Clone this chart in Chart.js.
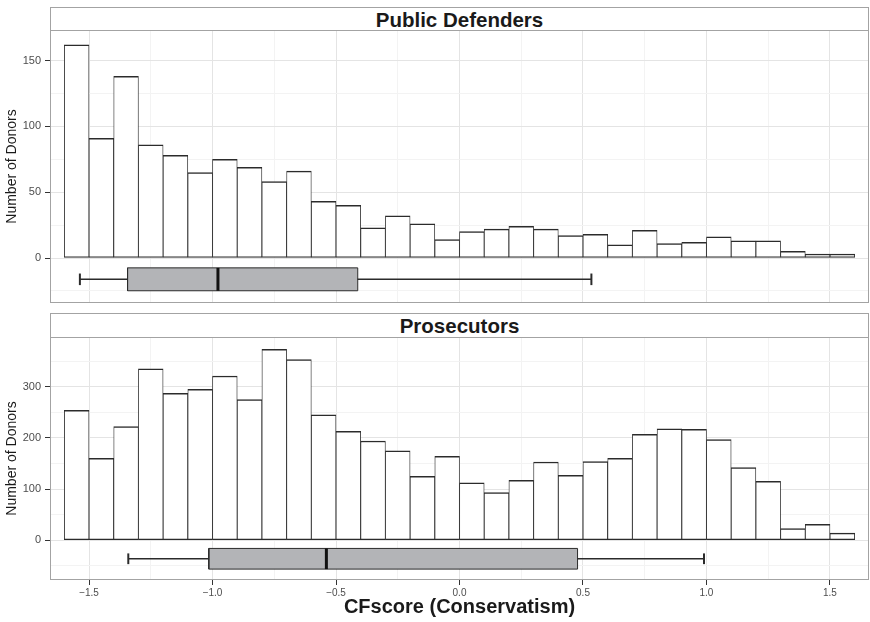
<!DOCTYPE html>
<html>
<head>
<meta charset="utf-8">
<script src="https://cdn.jsdelivr.net/npm/chart.js@4.4.1/dist/chart.umd.min.js"></script>
<style>
  html, body { margin: 0; padding: 0; background: #fff; }
  #wrap { position: relative; width: 870px; height: 622px; overflow: hidden; font-family: "Liberation Sans", Arial, sans-serif; }
  .panel { position: absolute; left: 0; width: 870px; }
  #box-pd { top: 0; height: 305px; }
  #box-pr { top: 305px; height: 317px; }
  .strip { position: absolute; left: 50px; width: 819px; box-sizing: border-box; border: 1px solid #a3a3a3; background: #fff;
           color: #1a1a1a; font-weight: bold; font-size: 20.5px; text-align: center; }
  #strip-pd { top: 7px; height: 24px; line-height: 23px; }
  #strip-pr { top: 313px; height: 25px; line-height: 24px; }
</style>
</head>
<body>
<div id="wrap">
  <div class="panel" id="box-pd"><canvas id="chart-pd"></canvas></div>
  <div class="panel" id="box-pr"><canvas id="chart-pr"></canvas></div>
  <div class="strip" id="strip-pd">Public Defenders</div>
  <div class="strip" id="strip-pr">Prosecutors</div>
</div>
<script>
// Histogramas de CFscore (bins de 0.1) con boxplot debajo, una faceta por grupo.
const binStarts = [-1.6, -1.5, -1.4, -1.3, -1.2, -1.1, -1.0, -0.9, -0.8, -0.7, -0.6, -0.5, -0.4, -0.3, -0.2, -0.1,
  0.0, 0.1, 0.2, 0.3, 0.4, 0.5, 0.6, 0.7, 0.8, 0.9, 1.0, 1.1, 1.2, 1.3, 1.4, 1.5];
const binWidth = 0.1;

const defenderCounts = [162, 91, 138, 86, 78, 65, 75, 69, 58, 66, 43, 40, 23, 32, 26, 14,
  20, 22, 24, 22, 17, 18, 10, 21, 11, 12, 16, 13, 13, 5, 3, 3];
const prosecutorCounts = [254, 160, 222, 335, 287, 295, 321, 275, 373, 353, 245, 213, 194, 175, 125, 164,
  112, 93, 117, 153, 127, 154, 160, 207, 218, 217, 197, 142, 115, 23, 31, 14];

// [bigote inf, Q1, mediana, Q3, bigote sup]
const defenderBox = [-1.537, -1.344, -0.978, -0.412, 0.534];
const prosecutorBox = [-1.341, -1.015, -0.539, 0.478, 0.990];

const xTicks = [-1.5, -1.0, -0.5, 0, 0.5, 1.0, 1.5];
const xTickLabels = ["\u22121.5", "\u22121.0", "\u22120.5", "0.0", "0.5", "1.0", "1.5"];
const xMinor = [-1.25, -0.75, -0.25, 0.25, 0.75, 1.25];
const defenderYTicks = [0, 50, 100, 150];
const defenderYMinor = [-25, 25, 75, 125];
const prosecutorYTicks = [0, 100, 200, 300];
const prosecutorYMinor = [-50, 50, 150, 250, 350];

// posición vertical del boxplot (unidades del eje y de cada faceta)
const LAYOUT = {
  pd: { yMin: -34.2, yMax: 173.3, boxMid: -16.2, boxHalf: 8.7, capHalf: 4.4, padTop: 30, padBottom: 2 },
  pr: { yMin: -77.7, yMax: 397.3, boxMid: -36.2, boxHalf: 20.2, capHalf: 10.5, padTop: 32, padBottom: 0 },
};
const C = { gridMajor: "#e4e4e4", gridMinor: "#f3f3f3", tick: "#333", text: "#4d4d4d", title: "#1a1a1a",
  border: "#a3a3a3", bar: "#2b2b2b", box: "#b3b4b7" };

Chart.defaults.font.family = '"Liberation Sans", Arial, sans-serif';

const panelBorder = {
  id: "panelBorder",
  afterDraw(chart) {
    const { ctx, chartArea: a } = chart;
    ctx.save();
    ctx.strokeStyle = C.border;
    ctx.lineWidth = 1;
    ctx.strokeRect(a.left + 0.5, a.top + 0.5, a.right - a.left - 1, a.bottom - a.top - 1);
    ctx.restore();
  },
};

const seg = (pts, color, width, order) => ({
  type: "line", data: pts, borderColor: color, borderWidth: width, pointRadius: 0,
  borderCapStyle: "butt", fill: false, order,
});

function renderPanel(id, counts, box, yTicks, yMinor, lay, showX) {
  const [lo, q1, med, q3, hi] = box;
  const m = lay.boxMid, h = lay.boxHalf, c = lay.capHalf;
  const isMajX = (ctx) => ctx.tick && xTicks.includes(ctx.tick.value);
  const isMajY = (ctx) => ctx.tick && yTicks.includes(ctx.tick.value);

  new Chart(id, {
    type: "bar",
    data: {
      datasets: [
        { type: "bar", data: binStarts.map((s, i) => ({ x: s + binWidth / 2, y: counts[i] })),
          backgroundColor: "#fff", borderColor: C.bar, borderWidth: { top: 1.5, bottom: 1.4, left: 0.85, right: 0.85 },
          borderSkipped: false, barPercentage: 1, categoryPercentage: 1, order: 10 },
        seg([{ x: lo, y: m }, { x: hi, y: m }], C.bar, 1.6, 9),
        { type: "line", data: [{ x: q1, y: m + h }, { x: q3, y: m + h }], borderWidth: 0, pointRadius: 0,
          backgroundColor: C.box, fill: { value: m - h }, order: 8 },
        seg([{ x: q1, y: m - h }, { x: q3, y: m - h }, { x: q3, y: m + h }, { x: q1, y: m + h }, { x: q1, y: m - h }], C.bar, 1, 7),
        seg([{ x: med, y: m - h }, { x: med, y: m + h }], "#111", 3, 6),
        seg([{ x: lo, y: m - c }, { x: lo, y: m + c }], C.bar, 2, 5),
        seg([{ x: hi, y: m - c }, { x: hi, y: m + c }], C.bar, 2, 5),
      ],
    },
    options: {
      responsive: true, maintainAspectRatio: false, animation: false,
      layout: { padding: { top: lay.padTop, right: 1, bottom: lay.padBottom, left: 0 } },
      plugins: { legend: { display: false }, tooltip: { enabled: false } },
      scales: {
        x: {
          type: "linear", min: -1.658, max: 1.658, offset: false,
          afterBuildTicks: (s) => { s.ticks = [...xTicks, ...xMinor].sort((a, b) => a - b).map((v) => ({ value: v })); },
          afterFit: (s) => { s.height = showX ? 42 : 0; s.paddingLeft = 0; s.paddingRight = 0; },
          ticks: { display: showX, autoSkip: false, maxRotation: 0, padding: 2, color: C.text, font: { size: 10 },
            callback: (v) => { const i = xTicks.indexOf(v); return i < 0 ? "" : xTickLabels[i]; } },
          grid: { offset: false, lineWidth: 1, drawTicks: showX, tickLength: 5,
            color: (ctx) => (isMajX(ctx) ? C.gridMajor : C.gridMinor),
            tickColor: (ctx) => (isMajX(ctx) ? C.tick : "rgba(0,0,0,0)") },
          border: { display: false },
          title: { display: showX, text: "CFscore (Conservatism)", color: C.title,
            font: { size: 20, weight: "bold" }, padding: { top: 0, bottom: 3 } },
        },
        y: {
          min: lay.yMin, max: lay.yMax,
          afterBuildTicks: (s) => { s.ticks = [...yTicks, ...yMinor].sort((a, b) => a - b).map((v) => ({ value: v })); },
          afterFit: (s) => { s.width = 50; s.paddingTop = 0; s.paddingBottom = 0; },
          ticks: { autoSkip: false, padding: 4, color: C.text, font: { size: 11 },
            callback: (v) => (yTicks.includes(v) ? String(v) : "") },
          grid: { lineWidth: 1, tickLength: 5,
            color: (ctx) => (isMajY(ctx) ? C.gridMajor : C.gridMinor),
            tickColor: (ctx) => (isMajY(ctx) ? C.tick : "rgba(0,0,0,0)") },
          border: { display: false },
          title: { display: true, text: "Number of Donors", color: C.title, font: { size: 14 },
            padding: { top: 4, bottom: 0 } },
        },
      },
    },
    plugins: [panelBorder],
  });
}

renderPanel("chart-pd", defenderCounts, defenderBox, defenderYTicks, defenderYMinor, LAYOUT.pd, false);
renderPanel("chart-pr", prosecutorCounts, prosecutorBox, prosecutorYTicks, prosecutorYMinor, LAYOUT.pr, true);
</script>
</body>
</html>
